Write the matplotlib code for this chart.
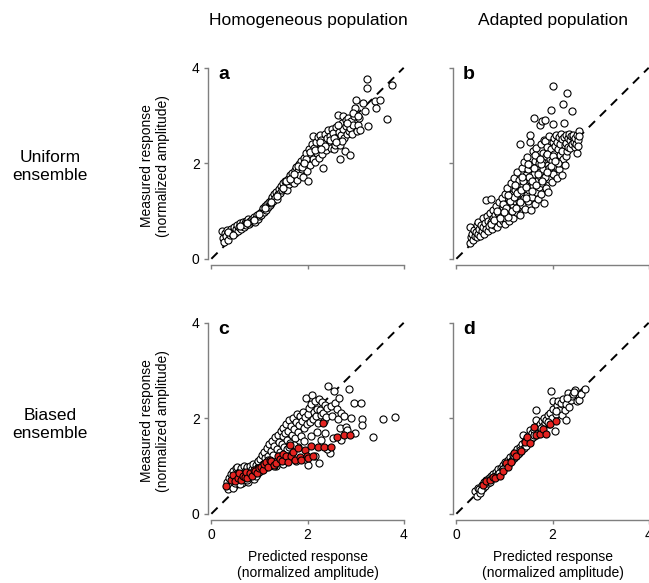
import matplotlib
matplotlib.use("Agg")
import matplotlib.pyplot as plt

plt.rcParams["font.family"] = ["Liberation Sans", "DejaVu Sans"]

W, H = 649, 583

col_titles = ["Homogeneous population", "Adapted population"]
row_titles = ["Uniform\nensemble", "Biased\nensemble"]
panel_letters = ["a", "b", "c", "d"]
tick_values = [0, 2, 4]
x_label = "Predicted response\n(normalized amplitude)"
y_label = "Measured response\n(normalized amplitude)"

# Panel a: homogeneous population, uniform ensemble
a_x = [0.22, 0.25, 0.27, 0.29, 0.31, 0.33, 0.35, 0.37, 0.39, 0.41,
       0.43, 0.45, 0.47, 0.49, 0.51, 0.53, 0.55, 0.57, 0.59, 0.61,
       0.63, 0.65, 0.67, 0.69, 0.71, 0.73, 0.75, 0.77, 0.79, 0.81,
       0.83, 0.85, 0.87, 0.89, 0.91, 0.93, 0.95, 0.97, 0.99, 1.01,
       1.03, 1.05, 1.07, 1.09, 1.11, 1.13, 1.15, 1.17, 1.19, 1.21,
       1.23, 1.25, 1.27, 1.29, 1.31, 1.33, 1.35, 1.37, 1.39, 1.41,
       1.43, 1.45, 1.47, 1.49, 1.51, 1.53, 1.55, 1.57, 1.59, 1.61,
       1.63, 1.65, 1.67, 1.69, 1.71, 1.73, 1.75, 1.77, 1.79, 1.81,
       1.83, 1.85, 1.87, 1.89, 1.91, 1.93, 1.95, 1.97, 1.99, 2.01,
       2.02, 2.04, 2.06, 2.08, 2.10, 2.11, 2.12, 2.14, 2.16, 2.18,
       2.20, 2.22, 2.24, 2.25, 2.27, 2.29, 2.31, 2.32, 2.34, 2.36,
       2.38, 2.40, 2.42, 2.44, 2.46, 2.48, 2.50, 2.52, 2.54, 2.56,
       2.57, 2.59, 2.61, 2.63, 2.65, 2.67, 2.68, 2.70, 2.72, 2.74,
       2.74, 2.76, 2.77, 2.79, 2.81, 2.83, 2.84, 2.86, 2.88, 2.89,
       2.91, 2.93, 2.95, 2.97, 2.98, 3.00, 3.02, 3.05, 3.08, 3.10,
       3.15, 3.19, 3.24, 3.24, 3.26, 3.40, 3.42, 3.51, 3.65, 3.75,
       0.34, 0.46, 0.60, 0.74, 0.88, 1.00, 1.12, 1.24, 1.36, 1.48,
       1.56, 1.64, 1.72, 1.80, 1.88, 1.96, 2.05, 2.15, 2.26, 2.37,
       2.47, 2.55, 2.64, 2.71, 2.82, 2.95, 3.06, 1.92, 2.28, 2.60]
a_y = [0.59, 0.44, 0.36, 0.53, 0.47, 0.61, 0.40, 0.55, 0.50, 0.63,
       0.52, 0.58, 0.67, 0.55, 0.62, 0.70, 0.58, 0.66, 0.74, 0.63,
       0.71, 0.78, 0.66, 0.75, 0.80, 0.70, 0.77, 0.83, 0.72, 0.79,
       0.76, 0.84, 0.80, 0.88, 0.78, 0.85, 0.92, 0.83, 0.90, 0.96,
       0.91, 1.00, 1.06, 0.97, 1.10, 1.03, 1.14, 1.08, 1.19, 1.12,
       1.24, 1.17, 1.30, 1.22, 1.35, 1.28, 1.40, 1.25, 1.36, 1.46,
       1.38, 1.52, 1.44, 1.58, 1.47, 1.62, 1.53, 1.44, 1.68, 1.57,
       1.75, 1.63, 1.80, 1.70, 1.58, 1.86, 1.74, 1.92, 1.66, 1.83,
       1.98, 1.76, 2.05, 1.88, 1.72, 2.12, 1.95, 2.22, 1.84, 1.62,
       2.05, 2.30, 1.96, 2.18, 2.40, 2.57, 2.10, 2.33, 2.02, 2.45,
       2.22, 2.55, 2.12, 2.60, 2.35, 2.48, 2.20, 1.90, 2.42, 2.62,
       2.28, 2.52, 2.70, 2.40, 2.58, 2.33, 2.71, 2.47, 2.64, 2.30,
       2.39, 2.77, 2.56, 3.02, 2.66, 2.39, 2.08, 2.60, 2.85, 2.71,
       2.99, 2.52, 2.25, 2.90, 2.78, 2.62, 2.95, 2.68, 2.73, 2.18,
       2.88, 2.62, 2.80, 2.98, 3.15, 3.32, 2.67, 2.81, 2.95, 2.70,
       3.26, 3.09, 3.77, 3.57, 2.78, 3.30, 3.15, 3.33, 2.92, 3.64,
       0.57, 0.49, 0.69, 0.74, 0.82, 0.93, 1.06, 1.18, 1.31, 1.49,
       1.62, 1.68, 1.77, 1.95, 1.92, 2.08, 2.24, 2.28, 2.45, 2.36,
       2.48, 2.52, 2.80, 2.46, 2.84, 3.05, 3.00, 2.00, 2.30, 2.45]

# Panel b: adapted population, uniform ensemble
b_x = [0.28, 0.29, 0.31, 0.33, 0.35, 0.36, 0.38, 0.40, 0.42, 0.43,
       0.45, 0.46, 0.48, 0.50, 0.51, 0.53, 0.55, 0.56, 0.58, 0.60,
       0.61, 0.62, 0.63, 0.65, 0.66, 0.68, 0.70, 0.71, 0.73, 0.74,
       0.76, 0.77, 0.79, 0.80, 0.82, 0.83, 0.85, 0.86, 0.88, 0.89,
       0.91, 0.92, 0.94, 0.95, 0.97, 0.98, 1.00, 1.01, 1.02, 1.04,
       1.05, 1.06, 1.08, 1.09, 1.10, 1.12, 1.13, 1.14, 1.16, 1.17,
       1.18, 1.20, 1.21, 1.22, 1.24, 1.25, 1.26, 1.28, 1.29, 1.30,
       1.31, 1.32, 1.33, 1.35, 1.36, 1.37, 1.38, 1.40, 1.41, 1.42,
       1.43, 1.44, 1.46, 1.47, 1.48, 1.49, 1.50, 1.52, 1.53, 1.54,
       1.54, 1.55, 1.56, 1.58, 1.59, 1.60, 1.61, 1.62, 1.63, 1.64,
       1.65, 1.66, 1.67, 1.68, 1.70, 1.71, 1.72, 1.73, 1.74, 1.75,
       1.76, 1.77, 1.78, 1.78, 1.79, 1.80, 1.81, 1.82, 1.83, 1.84,
       1.85, 1.86, 1.87, 1.88, 1.89, 1.90, 1.91, 1.92, 1.93, 1.94,
       1.95, 1.96, 1.97, 1.98, 1.99, 2.00, 2.01, 2.01, 2.02, 2.03,
       2.04, 2.05, 2.06, 2.07, 2.08, 2.09, 2.10, 2.11, 2.12, 2.13,
       2.14, 2.15, 2.16, 2.17, 2.18, 2.19, 2.20, 2.21, 2.22, 2.23,
       2.24, 2.25, 2.26, 2.27, 2.28, 2.29, 2.30, 2.31, 2.32, 2.33,
       2.34, 2.36, 2.37, 2.38, 2.40, 2.41, 2.42, 2.43, 2.45, 2.46,
       2.47, 2.48, 2.50, 2.51, 2.52, 2.53, 2.55, 2.56, 2.20, 2.12,
       0.84, 0.96, 1.03, 1.11, 1.19, 1.27, 1.34, 1.39, 1.45, 1.51,
       1.57, 1.62, 1.69, 1.72, 1.77, 1.84, 1.89, 1.93, 2.00, 1.08,
       1.15, 1.23, 1.33, 1.45, 1.58, 1.66, 1.79, 1.88, 1.97, 2.05,
       0.72, 0.78, 0.90, 0.99, 1.07, 1.21, 1.36, 1.48, 1.63, 1.74]
b_y = [0.34, 0.66, 0.45, 0.52, 0.40, 0.60, 0.48, 0.56, 0.45, 0.70,
       0.52, 0.78, 0.62, 0.48, 0.70, 0.58, 0.85, 0.66, 0.52, 0.74,
       0.62, 1.24, 0.90, 0.58, 0.80, 0.68, 0.95, 0.76, 1.26, 0.62,
       0.86, 1.02, 0.70, 0.92, 0.78, 1.10, 0.66, 0.96, 0.84, 1.18,
       0.74, 1.02, 0.90, 1.28, 0.80, 1.08, 0.95, 0.72, 1.36, 0.86,
       1.15, 1.48, 0.98, 0.80, 1.26, 1.05, 1.58, 0.90, 1.36, 1.12,
       0.85, 1.70, 1.22, 1.44, 0.98, 1.30, 1.82, 1.08, 1.52, 1.20,
       1.64, 2.41, 0.92, 1.38, 1.90, 1.12, 1.55, 1.28, 2.02, 1.46,
       1.05, 1.75, 1.34, 2.14, 1.58, 1.20, 1.88, 1.44, 2.45, 1.66,
       2.60, 1.02, 1.96, 1.30, 2.25, 1.52, 2.95, 1.78, 1.15, 2.05,
       1.40, 2.32, 1.62, 1.92, 1.25, 2.12, 1.50, 2.80, 1.82, 2.40,
       1.36, 1.70, 2.88, 2.02, 1.58, 2.22, 1.88, 1.17, 2.48, 2.90,
       2.46, 1.48, 2.15, 1.75, 2.34, 1.96, 1.40, 2.58, 1.68, 2.10,
       1.85, 3.11, 2.30, 1.60, 2.04, 2.44, 3.61, 2.83, 1.78, 2.20,
       2.52, 1.95, 2.36, 2.60, 2.12, 1.70, 2.45, 2.08, 2.30, 2.56,
       1.88, 2.18, 2.40, 2.62, 2.00, 2.50, 2.26, 3.24, 2.10, 2.85,
       2.55, 1.97, 2.38, 2.16, 2.60, 2.42, 2.25, 3.48, 2.52, 2.34,
       2.62, 2.32, 2.48, 2.58, 2.40, 3.09, 2.55, 2.60, 2.45, 2.35,
       2.52, 2.41, 2.22, 2.60, 2.48, 2.36, 2.67, 2.58, 1.75, 2.00,
       1.00, 1.14, 1.06, 1.20, 1.30, 1.38, 1.45, 1.62, 1.50, 1.72,
       1.62, 1.90, 1.78, 2.00, 1.98, 1.72, 2.20, 1.90, 2.15, 0.88,
       1.00, 1.06, 1.18, 1.28, 1.42, 1.55, 1.62, 1.82, 1.95, 2.05,
       0.72, 0.82, 0.86, 0.98, 1.34, 1.55, 1.72, 1.98, 2.18, 2.10]

# Panel c: homogeneous population, biased ensemble (white: all stimuli, red: biased subset)
c_x = [0.32, 0.34, 0.36, 0.38, 0.40, 0.42, 0.44, 0.46, 0.47, 0.49,
       0.51, 0.53, 0.54, 0.56, 0.58, 0.60, 0.62, 0.63, 0.65, 0.67,
       0.69, 0.71, 0.72, 0.74, 0.76, 0.78, 0.80, 0.82, 0.84, 0.86,
       0.88, 0.90, 0.92, 0.94, 0.96, 0.98, 1.00, 1.02, 1.04, 1.06,
       1.08, 1.10, 1.12, 1.14, 1.16, 1.18, 1.20, 1.22, 1.24, 1.26,
       1.28, 1.30, 1.32, 1.34, 1.36, 1.38, 1.40, 1.42, 1.44, 1.46,
       1.48, 1.50, 1.52, 1.54, 1.56, 1.58, 1.60, 1.62, 1.64, 1.66,
       1.68, 1.70, 1.72, 1.74, 1.76, 1.78, 1.80, 1.82, 1.84, 1.86,
       1.88, 1.90, 1.92, 1.94, 1.96, 1.98, 2.00, 2.01, 2.03, 2.05,
       2.07, 2.09, 2.11, 2.13, 2.15, 2.17, 2.19, 2.21, 2.23, 2.24,
       2.26, 2.28, 2.30, 2.32, 2.34, 2.36, 2.38, 2.40, 2.43, 2.46,
       2.48, 2.50, 2.53, 2.55, 2.58, 2.61, 2.64, 2.66, 2.68, 2.70,
       2.70, 2.75, 2.80, 2.83, 2.86, 2.90, 2.96, 2.98, 3.11, 3.14,
       3.14, 3.36, 3.58, 3.81, 1.30, 1.50, 1.75, 1.95, 2.15, 2.40,
       0.60, 0.75, 0.92, 1.05, 1.22, 1.36, 1.52, 1.66, 1.80, 1.92,
       2.08, 2.20, 2.29, 2.37, 1.58, 1.72, 0.98, 1.18, 1.40, 1.62]
c_y = [0.66, 0.52, 0.74, 0.60, 0.84, 0.70, 0.55, 0.90, 0.78, 0.64,
       0.95, 0.82, 0.99, 0.70, 0.88, 0.76, 0.96, 0.64, 0.85, 1.00,
       0.72, 0.92, 0.80, 0.98, 0.66, 0.88, 1.00, 0.78, 0.94, 1.04,
       0.72, 0.90, 1.02, 0.84, 0.98, 1.10, 0.88, 1.15, 0.97, 1.24,
       1.05, 1.30, 1.16, 0.98, 1.38, 1.22, 1.46, 1.10, 1.32, 1.52,
       1.24, 1.42, 1.60, 1.00, 1.36, 1.66, 1.50, 1.30, 1.74, 1.46,
       1.62, 1.80, 1.40, 1.70, 1.88, 1.55, 1.74, 1.96, 1.48, 1.84,
       1.66, 2.00, 1.78, 1.58, 1.92, 2.10, 1.72, 1.86, 2.04, 1.62,
       1.95, 2.14, 1.80, 2.02, 2.43, 1.88, 2.10, 1.03, 2.22, 1.92,
       2.30, 2.48, 1.98, 2.14, 2.36, 2.04, 2.20, 1.90, 2.40, 1.06,
       2.18, 2.06, 2.34, 2.12, 1.95, 2.28, 2.02, 2.22, 2.67, 1.27,
       2.26, 2.05, 1.59, 2.57, 2.32, 2.20, 1.98, 2.42, 1.80, 2.11,
       1.55, 2.05, 1.82, 1.76, 2.62, 2.00, 2.32, 1.69, 2.32, 1.99,
       1.85, 1.60, 1.99, 2.03, 1.00, 1.05, 1.10, 1.15, 1.20, 1.35,
       0.62, 0.70, 0.80, 0.92, 1.02, 1.10, 1.18, 1.26, 1.40, 1.52,
       1.62, 1.72, 1.55, 1.70, 1.35, 1.45, 0.95, 1.12, 1.20, 1.40]
c_red_x = [0.30, 0.40, 0.45, 0.50, 0.55, 0.58, 0.62, 0.65, 0.69, 0.72, 0.75, 0.80, 0.84,
           0.88, 0.90, 0.95, 1.00, 1.04, 1.08, 1.10, 1.14, 1.18, 1.22, 1.25, 1.30, 1.35,
           1.38, 1.42, 1.46, 1.50, 1.56, 1.60, 1.63, 1.66, 1.70, 1.73, 1.80, 1.84, 1.87,
           1.94, 1.98, 2.01, 2.07, 2.11, 2.22, 2.32, 2.35, 2.48, 2.62, 2.76, 2.89]
c_red_y = [0.59, 0.70, 0.82, 0.68, 0.75, 0.85, 0.70, 0.80, 0.78, 0.88, 0.74, 0.85, 0.80,
           0.92, 0.89, 0.86, 0.96, 0.99, 0.92, 1.05, 1.08, 0.98, 1.12, 1.10, 1.02, 1.06,
           1.20, 1.14, 1.10, 1.25, 1.20, 1.08, 1.45, 1.20, 1.30, 1.13, 1.38, 1.18, 1.13,
           1.34, 1.20, 1.17, 1.43, 1.20, 1.39, 1.90, 1.39, 1.39, 1.61, 1.64, 1.65]

# Panel d: adapted population, biased ensemble
d_x = [0.38, 0.42, 0.45, 0.48, 0.50, 0.53, 0.55, 0.58, 0.60, 0.62,
       0.65, 0.67, 0.70, 0.72, 0.75, 0.77, 0.80, 0.82, 0.85, 0.87,
       0.90, 0.92, 0.95, 0.97, 1.00, 1.02, 1.05, 1.07, 1.10, 1.12,
       1.15, 1.17, 1.20, 1.22, 1.25, 1.27, 1.30, 1.32, 1.35, 1.37,
       1.39, 1.40, 1.42, 1.45, 1.47, 1.50, 1.52, 1.53, 1.55, 1.58,
       1.60, 1.62, 1.65, 1.66, 1.66, 1.68, 1.70, 1.73, 1.75, 1.78,
       1.80, 1.83, 1.85, 1.87, 1.90, 1.92, 1.95, 1.96, 1.98, 2.00,
       2.02, 2.05, 2.07, 2.10, 2.11, 2.14, 2.17, 2.20, 2.22, 2.25,
       2.28, 2.29, 2.32, 2.35, 2.38, 2.40, 2.43, 2.47, 2.50, 2.55,
       2.60, 2.68, 0.52, 0.70, 0.88, 1.03, 1.19, 1.33, 1.48, 1.62,
       1.76, 1.90, 2.08, 2.30, 2.45, 1.12, 1.28, 1.44, 0.78, 0.96]
d_y = [0.47, 0.38, 0.55, 0.52, 0.44, 0.60, 0.53, 0.66, 0.58, 0.70,
       0.64, 0.75, 0.70, 0.80, 0.74, 0.84, 0.79, 0.88, 0.82, 0.93,
       0.86, 0.96, 0.92, 1.02, 0.96, 1.08, 1.00, 1.12, 1.06, 1.18,
       1.12, 1.24, 1.16, 1.30, 1.22, 1.36, 1.28, 1.40, 1.32, 1.46,
       1.66, 1.38, 1.52, 1.44, 1.58, 1.50, 1.64, 1.76, 1.56, 1.70,
       1.60, 1.76, 1.66, 1.97, 2.17, 1.82, 1.70, 1.88, 1.76, 1.94,
       1.84, 2.00, 1.90, 1.97, 2.06, 1.88, 2.12, 2.58, 2.00, 2.20,
       2.36, 1.73, 2.10, 2.28, 2.36, 2.18, 2.32, 2.06, 2.40, 2.18,
       2.30, 1.97, 2.53, 2.24, 2.38, 2.46, 2.50, 2.60, 2.36, 2.38,
       2.50, 2.62, 0.49, 0.67, 0.86, 1.04, 1.20, 1.34, 1.48, 1.64,
       1.80, 1.93, 2.15, 2.42, 2.55, 1.08, 1.26, 1.42, 0.76, 0.94]
d_red_x = [0.55, 0.62, 0.69, 0.76, 0.80, 0.90, 0.97, 1.04, 1.07, 1.14, 1.19, 1.25, 1.35,
           1.43, 1.46, 1.53, 1.61, 1.66, 1.73, 1.80, 1.86, 1.94, 2.07]
d_red_y = [0.61, 0.68, 0.70, 0.78, 0.75, 0.80, 0.90, 1.06, 0.99, 1.08, 1.27, 1.20, 1.31,
           1.50, 1.61, 1.48, 1.82, 1.64, 1.68, 1.78, 1.68, 1.87, 1.95]

panels = [
    (a_x, a_y, None, None),
    (b_x, b_y, None, None),
    (c_x, c_y, c_red_x, c_red_y),
    (d_x, d_y, d_red_x, d_red_y),
]

RED = "#e42320"
AXIS_GREY = "#7f7f7f"

fig = plt.figure(figsize=(W / 100, H / 100), dpi=100)


def fx(px):
    return px / W


def fy(py):
    return 1 - py / H


# axes boxes in pixel coordinates: (left, top, right, bottom)
XLIM = (-0.07, 4.10)
YLIM = (-0.13, 4.10)
boxes = [
    (208, 63, 408.5, 265),
    (453, 63, 653.5, 265),
    (208, 318, 408.5, 520),
    (453, 318, 653.5, 520),
]

for i, ((l, t, r, b), (xs, ys, rx, ry)) in enumerate(zip(boxes, panels)):
    ax = fig.add_axes([fx(l), fy(b), fx(r) - fx(l), fy(t) - fy(b)])
    ax.set_xlim(*XLIM)
    ax.set_ylim(*YLIM)
    ax.patch.set_alpha(0)
    ax.plot([0, 4], [0, 4], ls=(0, (4.5, 3.5)), color="black", lw=1.4, zorder=1,
            clip_on=False)
    ax.scatter(xs, ys, s=26, facecolor="white", edgecolor="black", linewidths=0.8,
               zorder=2, clip_on=False)
    if rx is not None:
        ax.scatter(rx, ry, s=26, facecolor=RED, edgecolor="black", linewidths=0.8,
                   zorder=3, clip_on=False)
    for side in ("top", "right"):
        ax.spines[side].set_visible(False)
    for side in ("left", "bottom"):
        ax.spines[side].set_bounds(0, 4)
        ax.spines[side].set_color(AXIS_GREY)
        ax.spines[side].set_linewidth(1.0)
    ax.set_xticks(tick_values)
    ax.set_yticks(tick_values)
    ax.tick_params(direction="out", length=3, width=1.0, color=AXIS_GREY,
                   labelsize=10, pad=3)
    if i < 2:
        ax.set_xticklabels([])
    if i % 2 == 1:
        ax.set_yticklabels([])
    ax.text(0.05, 0.985, panel_letters[i], transform=ax.transAxes, fontsize=14,
            fontweight="bold", va="top", ha="left")

# column titles
fig.text(fx(308), fy(20), col_titles[0], ha="center", va="center", fontsize=12.5)
fig.text(fx(553), fy(20), col_titles[1], ha="center", va="center", fontsize=12.5)

# row titles
fig.text(fx(50), fy(167), row_titles[0], ha="center", va="center", fontsize=12.5,
         linespacing=1.25)
fig.text(fx(50), fy(424), row_titles[1], ha="center", va="center", fontsize=12.5,
         linespacing=1.25)

# y-axis labels on the left column
for yc in (166, 421):
    fig.text(fx(155), fy(yc), y_label, ha="center", va="center", rotation=90,
             fontsize=10, linespacing=1.15)

# x-axis labels on the bottom row
for xc in (308, 553):
    fig.text(fx(xc), fy(565), x_label, ha="center", va="center", fontsize=10,
             linespacing=1.15)

fig.savefig("out.png", dpi=100)
